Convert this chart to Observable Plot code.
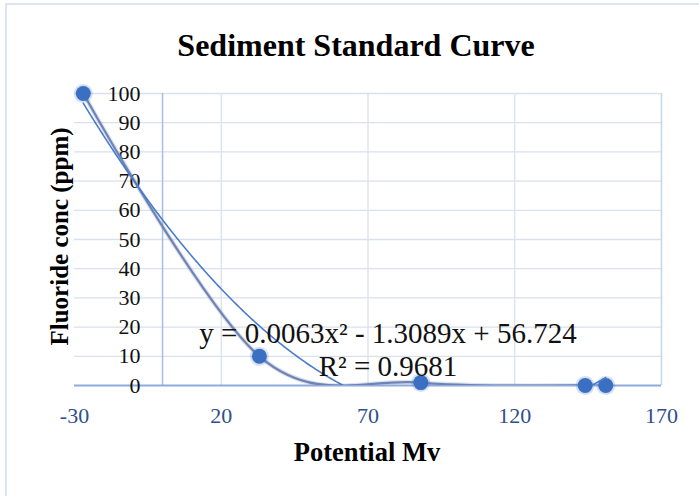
<!DOCTYPE html>
<html><head><meta charset="utf-8">
<script src="https://cdn.jsdelivr.net/npm/d3@7"></script>
<script src="https://cdn.jsdelivr.net/npm/@observablehq/plot@0.6"></script>
<style>
html,body{margin:0;padding:0;background:#fff;}
#wrap{position:relative;width:699px;height:496px;overflow:hidden;background:#fff;}
#border{position:absolute;left:5px;top:3px;width:720px;height:520px;border:2px solid #dde5f1;box-sizing:border-box;pointer-events:none;}
#chart{position:absolute;left:0;top:0;}
</style></head><body>
<div id="wrap"><div id="chart"></div><div id="border"></div></div>
<script>
// ---- data ----
const potential = [-27, 33, 88, 144, 151];
const fluoride  = [100, 10, 1, 0, 0];
const xTicks = [-30, 20, 70, 120, 170];
const yTicks = [0, 10, 20, 30, 40, 50, 60, 70, 80, 90, 100];
const xGrid  = [20, 70, 120, 170];
// polynomial trendline coefficients, as printed on the chart (c0, c1, c2)
const trendCoef = [56.724, -1.3089, 0.0063];
const titleText = "Sediment Standard Curve";
const xLabel = "Potential Mv";
const yLabel = "Fluoride conc (ppm)";
const eqLabel = "y = 0.0063x² - 1.3089x + 56.724";
const r2Label = "R² = 0.9681";

const points = potential.map((x, i) => ({x, y: fluoride[i]}));
const x0 = d3.min(potential), x1 = d3.max(potential);
const trend = d3.range(x0, x1 + 0.001, 0.5).map(x => ({x, y: trendCoef[0] + trendCoef[1] * x + trendCoef[2] * x * x}));

const serif = "'Liberation Serif', 'Times New Roman', serif";
const smooth = d3.curveCardinal.tension(0);

const chart = Plot.plot({
  width: 699,
  height: 496,
  marginLeft: 74,
  marginRight: 38,
  marginTop: 93,
  marginBottom: 111,
  style: {fontFamily: serif, background: "transparent", overflow: "visible"},
  x: {domain: [-30, 170], axis: null},
  y: {domain: [0, 100], axis: null},
  marks: [
    Plot.ruleY(yTicks.filter(d => d > 0), {y: d => d, stroke: "#d9e1ee", strokeWidth: 1.3}),
    Plot.ruleX(xGrid, {x: d => d, y1: 0, y2: 100, stroke: "#d9e1ee", strokeWidth: 1.3}),
    Plot.ruleX([170], {x: d => d, y1: 0, y2: 100, stroke: "#c9d8f0", strokeWidth: 1.5}),
    Plot.ruleX([0], {x: d => d, y1: 0, y2: 100, stroke: "#a9bde2", strokeWidth: 1.5}),
    Plot.ruleY([0], {y: d => d, stroke: "#8faadc", strokeWidth: 1.8}),
    // tick labels
    Plot.text(yTicks, {x: () => 0, y: d => d, text: d => String(d), textAnchor: "end", dx: -22, lineAnchor: "middle", fontSize: 22, fill: "#111"}),
    Plot.text(xTicks, {x: d => d, frameAnchor: "bottom", text: d => String(d), lineAnchor: "bottom", dy: 37, fontSize: 22, fill: "#2f4f8a"}),
    // data series
    Plot.line(points, {x: "x", y: "y", curve: smooth, stroke: "#8a9ac0", strokeWidth: 4.5, strokeOpacity: 0.3, clip: true}),
    Plot.line(points, {x: "x", y: "y", curve: smooth, stroke: "#6f84b6", strokeWidth: 2.2, clip: true}),
    Plot.dot(points, {x: "x", y: "y", r: 9.5, fill: "#3c70c4", fillOpacity: 0.22}),
    Plot.dot(points, {x: "x", y: "y", r: 7.5, fill: "#3a6fc2"}),
    // trendline
    Plot.line(trend, {x: "x", y: "y", stroke: "#4a7bcb", strokeWidth: 1.6, clip: true}),
    // trendline labels
    Plot.text([eqLabel], {frameAnchor: "bottom", text: d => d, textAnchor: "middle", lineAnchor: "bottom", dx: 20, dy: -43, fontSize: 29, fill: "#111"}),
    Plot.text([r2Label], {frameAnchor: "bottom", text: d => d, textAnchor: "middle", lineAnchor: "bottom", dx: 20, dy: -10, fontSize: 29, fill: "#111"}),
    // titles
    Plot.text([titleText], {frameAnchor: "top", text: d => d, textAnchor: "middle", lineAnchor: "bottom", dx: -12, dy: -38, fontSize: 32, fontWeight: "bold", fill: "#000"}),
    Plot.text([xLabel], {frameAnchor: "bottom", text: d => d, textAnchor: "middle", lineAnchor: "bottom", dx: -1, dy: 75, fontSize: 26.5, fontWeight: "bold", fill: "#000"}),
    Plot.text([yLabel], {frameAnchor: "left", text: d => d, textAnchor: "middle", lineAnchor: "bottom", rotate: -90, dx: -7, dy: -3, fontSize: 25, fontWeight: "bold", fill: "#000"})
  ]
});
document.getElementById("chart").appendChild(chart);
</script>
</body></html>
